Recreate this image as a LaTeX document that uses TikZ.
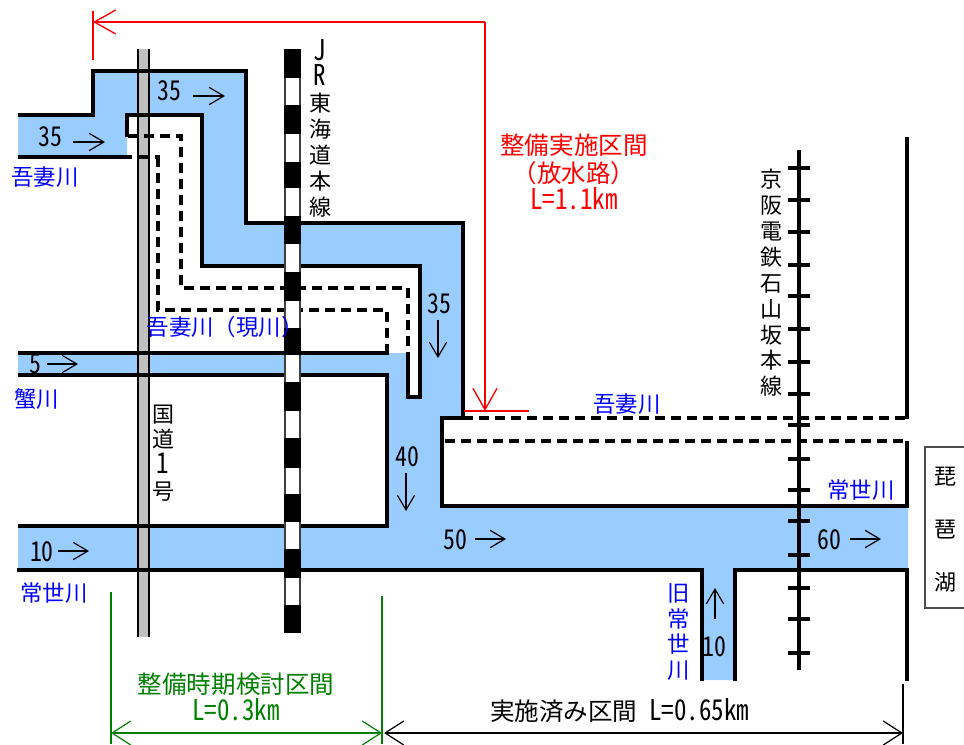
\documentclass[tikz,border=0pt]{standalone}
\usepackage{fontspec}
\setmainfont{Noto Sans CJK JP}
\newfontfamily\hwfont[RawFeature={+hwid},FakeStretch=0.87]{Noto Sans CJK JP}
\usetikzlibrary{arrows.meta}
\definecolor{riverblue}{HTML}{99CCFF}
\definecolor{roadgray}{HTML}{C0C0C0}
\definecolor{dimgreen}{HTML}{008000}
\tikzset{
  x=0.75pt,y=-0.75pt,
  wall/.style={line width=2.3pt,black,line join=miter},
  oldwall/.style={line width=2.3pt,black,dash pattern=on 7.5pt off 4.5pt},
  flow/.style={line width=.9pt,-{Straight Barb[length=11pt,width=13pt]}},
  redline/.style={line width=1pt,red},
  redtip/.style={line width=1pt,red,-{Straight Barb[length=16pt,width=18pt]}},
  dimtip/.style={line width=.9pt,{Straight Barb[length=14pt,width=18pt]}-{Straight Barb[length=14pt,width=18pt]}},
  lbl/.style={inner sep=0pt,align=center},
  num/.style={lbl,black,font=\hwfont\fontsize{20.5}{19.5}\selectfont},
  vert/.style={lbl,black,font=\fontsize{16.5}{19.4}\selectfont},
  place/.style={lbl,blue,font=\fontsize{16.8}{19.2}\selectfont},
  bigt/.style={lbl,font=\fontsize{18.4}{20.4}\selectfont},
}
\newcommand\latin[1]{{\hwfont\fontsize{21.5}{20.4}\selectfont #1}}
\begin{document}
\begin{tikzpicture}
\useasboundingbox (0,0) rectangle (964,744);
% water
\fill[riverblue] (18,115) -- (93,115) -- (93,71) -- (246,71) -- (246,223) -- (463,223) -- (463,418)
  -- (442,418) -- (442,506) -- (908,506) -- (908,570) -- (735,570) -- (735,680) -- (702,680) -- (702,570)
  -- (18,570) -- (18,526) -- (387,526) -- (387,375) -- (18,375) -- (18,353) -- (408,353) -- (408,397)
  -- (420,397) -- (420,266) -- (202,266) -- (202,115) -- (127,115) -- (127,157) -- (18,157) -- cycle;
% road
\fill[roadgray] (138,49) rectangle (149,637);
\draw[line width=1.9pt] (138,49) -- (138,637) (149,49) -- (149,637);
% solid banks
\draw[wall] (18,115) -- (95,115) (93,116) -- (93,71) -- (246,71) -- (246,223) -- (463,223) -- (463,418) -- (442,418) -- (442,506) -- (907,506) -- (907,441);
\draw[wall] (907,137) -- (907,419);
\draw[wall] (18,157) -- (132,157) (138,157) -- (149,157) (155,157) -- (160,157);
\draw[wall] (127,137) -- (127,115) -- (202,115) -- (202,266) -- (420,266) -- (420,397) -- (408,397) -- (408,353);
\draw[wall] (18,353) -- (389,353);
\draw[wall] (18,375) -- (387,375) -- (387,526) -- (18,526);
\draw[wall] (17,570) -- (702,570) -- (702,681);
\draw[wall] (735,681) -- (735,570) -- (907,570) -- (907,681);
% old course (dashed)
\draw[oldwall] (128,136) -- (181,136) -- (181,288) -- (408,288) -- (408,353);
\draw[oldwall] (158,157) -- (158,310) -- (387,310) -- (387,353);
\draw[oldwall] (463,418) -- (907,418);
\draw[oldwall] (445,441) -- (907,441);
% JR railway
\fill[white] (285,49) rectangle (300,633);
\draw[line width=1.2pt,black!75] (285,49) -- (285,633) (300,49) -- (300,633);
\foreach \a/\b in {49/78,105/134,162/188,216/244,272/301,328/355,382/411,438/468,494/522,549/578,605/633}
  \fill[black] (284.4,\a) rectangle (300.6,\b);
% Keihan line
\draw[line width=2.5pt] (799,150) -- (799,670);
\foreach \y in {168,200,232,265,296,329,362,394,425,459,490,521,555,588,619,653}
  \draw[line width=2.3pt] (788,\y) -- (810,\y);
% lake box
\draw[line width=.9pt,black!70] (964,447) -- (925,447) -- (925,608) -- (964,608);
% red dimension
\coordinate (redstop) at (93,22);
\coordinate (redcorner) at (485,22);
\coordinate (redend) at (485,411);
\draw[redline] (93,11) -- (93,60);
\draw[redtip] (redcorner) -- (redstop);
\draw[redtip] (redcorner) -- (redend);
\draw[line width=1.2pt,red] (464,411) -- (529,411);
% green and black dimensions
\coordinate (gl) at (111,733);
\coordinate (gr) at (382,733);
\coordinate (kl) at (384,733);
\coordinate (kr) at (903,733);
\draw[line width=.8pt,dimgreen] (111,592) -- (111,744) (382,596) -- (382,744);
\draw[dimtip,dimgreen] (gl) -- (gr);
\draw[dimtip,black] (kl) -- (kr);
\draw[line width=.8pt,black] (903,684) -- (903,744);
% flow arrows
\coordinate (a1s) at (73,142); \coordinate (a1e) at (105,142);
\coordinate (a2s) at (193,96); \coordinate (a2e) at (225,96);
\coordinate (a3s) at (438,320); \coordinate (a3e) at (438,358);
\coordinate (a4s) at (47,364); \coordinate (a4e) at (78,364);
\coordinate (a5s) at (58,551); \coordinate (a5e) at (89,551);
\coordinate (a6s) at (406,473); \coordinate (a6e) at (406,511);
\coordinate (a7s) at (475,539); \coordinate (a7e) at (506,539);
\coordinate (a8s) at (850,539); \coordinate (a8e) at (881,539);
\coordinate (a9s) at (715,619); \coordinate (a9e) at (715,588);
\foreach \i in {1,...,9} \draw[flow] (a\i s) -- (a\i e);
% numbers
\node[num] (n35a) at (50,137) {35};
\node[num] (n35b) at (169,91) {35};
\node[num] (n35c) at (439,304) {35};
\node[num] (n5) at (35,364) {5};
\node[num] (n10a) at (42,552) {10};
\node[num] (n40) at (407,457) {40};
\node[num] (n50) at (455,540) {50};
\node[num] (n60) at (829,540) {60};
\node[num] (n10b) at (714,647) {10};
% blue place labels
\node[place] (p1) at (45,177) {吾妻川};
\node[place] (p2) at (225,327) {吾妻川（現川）};
\node[place] (p3) at (37,399) {蟹川};
\node[place] (p4) at (54,593) {常世川};
\node[place] (p5) at (627,404) {吾妻川};
\node[place] (p6) at (861,490) {常世川};
\node[place] (p7) at (679,632) {旧\\常\\世\\川};
% vertical black labels
\node[vert] (jr) at (320,128) {\latin{J}\\\latin{R}\\東\\海\\道\\本\\線};
\node[vert] (rt) at (163,453) {国\\道\\\latin{1}\\号};
\node[vert] (kh) at (771,283) {京\\阪\\電\\鉄\\石\\山\\坂\\本\\線};
\node[vert,font=\fontsize{16.5}{39.7}\selectfont] (lake) at (945,530) {琵\\琶\\湖};
% dimension labels
\node[bigt,red] (t1) at (574,172) {整備実施区間\\（放水路）\\\latin{L=1.1km}};
\node[bigt,dimgreen] (t2) at (236,697) {整備時期検討区間\\\latin{L=0.3km}};
\node[bigt,black,anchor=west] (t3) at (490,711) {実施済み区間\hspace{9pt}\latin{L=0.65km}};
\end{tikzpicture}
\end{document}
